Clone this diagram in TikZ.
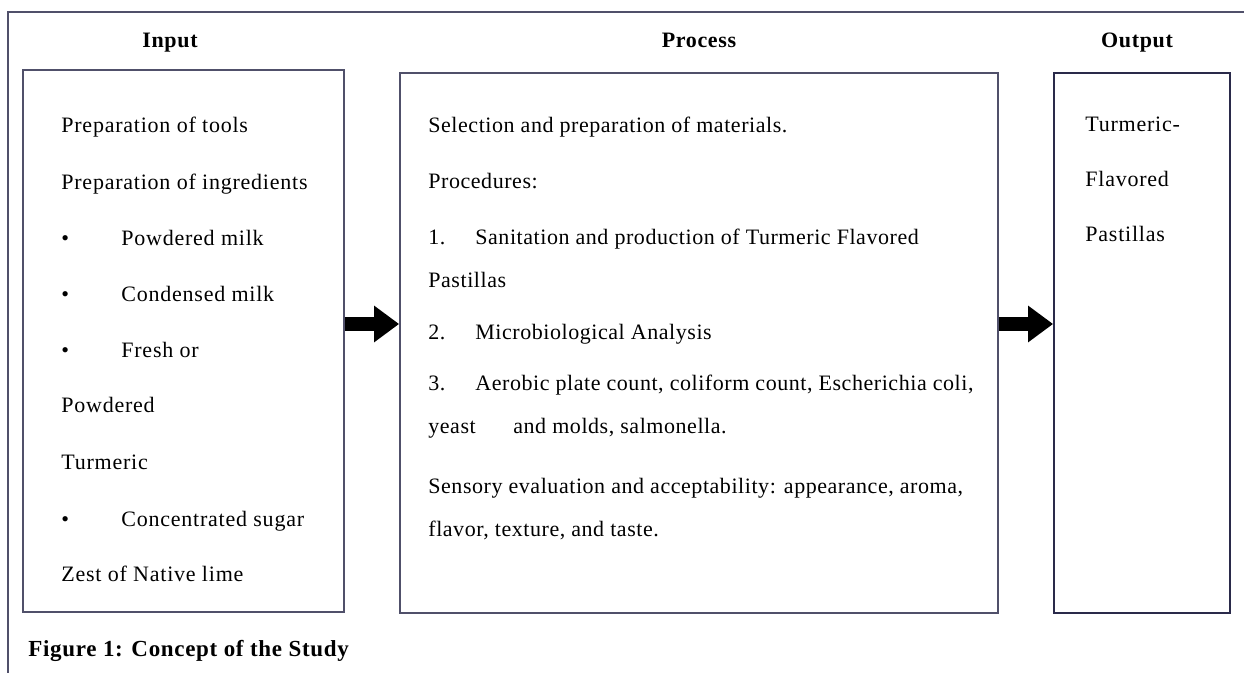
\documentclass[tikz,border=0pt]{standalone}
\usepackage{fontspec}
\setmainfont{Liberation Serif}
\usetikzlibrary{arrows.meta,positioning,calc}
\definecolor{ruleGray}{HTML}{50506A}
\definecolor{boxNavy}{HTML}{2A2A4A}
\tikzset{
  framerule/.style={draw=ruleGray, line width=.9pt},
  stagebox/.style={draw=ruleGray, line width=.9pt, rectangle, inner sep=0pt,
    minimum height=270pt},
  headtext/.style={font=\fontsize{11}{13}\selectfont\bfseries\addfontfeatures{LetterSpace=3},
    anchor=base, inner sep=0pt},
  bodytext/.style={font=\fontsize{11}{13}\selectfont\addfontfeatures{LetterSpace=3.5},
    anchor=base west, inner sep=0pt},
  proctext/.style={bodytext, font=\fontsize{11}{13}\selectfont\addfontfeatures{LetterSpace=2.5}},
  captiontext/.style={font=\fontsize{11.5}{14}\selectfont\bfseries\addfontfeatures{LetterSpace=3},
    anchor=base west, inner sep=0pt},
  blockarrow/.style={draw=black, line width=7pt, -{Triangle[length=12.5pt, width=17.5pt]}}
}

\begin{document}
\begin{tikzpicture}[x=0.5pt, y=-0.5pt]
  \useasboundingbox (0,0) rectangle (1244,673);

  % outer frame: left and top rules only
  \draw[framerule] (8,673) -- (8,12) -- (1244,12);

  % stage boxes
  \node[stagebox, minimum width=160.5pt, minimum height=271pt] (input) at (183.5,341) {};
  \node[stagebox, minimum width=299pt] (process) at (699,343) {};
  \node[stagebox, draw=boxNavy, minimum width=88pt] (output) at (1142,343) {};

  % headings
  \node[headtext] (inputhead) at (170,48) {Input};
  \node[headtext] (processhead) at (699,48) {Process};
  \node[headtext] (outputhead) at (1137,48) {Output};

  % input list
  \foreach \y/\txt in {133/Preparation of tools, 190/Preparation of ingredients,
      413/Powdered, 470/Turmeric, 582/Zest of Native lime}
    \node[bodytext] at (61,\y) {\txt};
  \foreach \y/\txt in {246/Powdered milk, 302/Condensed milk, 358/Fresh or, 527/Concentrated sugar} {
    \node[bodytext] at (61,\y) {•};
    \node[bodytext] at (121,\y) {\txt};
  }

  % process steps
  \node[proctext] (sel) at (428,133) {Selection and preparation of materials.};
  \node[proctext] (proc) at (428,189) {Procedures:};
  \node[proctext] (n1) at (428,245) {1.};
  \node[proctext] (s1) at (475,245) {Sanitation and production of Turmeric Flavored};
  \node[proctext] (s1b) at (428,288) {Pastillas};
  \node[proctext] (n2) at (428,340) {2.};
  \node[proctext] (s2) at (475,340) {Microbiological Analysis};
  \node[proctext] (n3) at (428,391) {3.};
  \node[proctext] (s3) at (475,391) {Aerobic plate count, coliform count, Escherichia coli,};
  \node[proctext] (s3a) at (428,434) {yeast};
  \node[proctext] (s3b) at (513,434) {and molds, salmonella.};
  \node[proctext] (sens) at (428,494) {Sensory evaluation and acceptability: appearance, aroma,};
  \node[proctext] (sensb) at (428,537) {flavor, texture, and taste.};

  % output
  \node[bodytext] (o1) at (1085,132) {Turmeric-};
  \node[bodytext] (o2) at (1085,187) {Flavored};
  \node[bodytext] (o3) at (1085,242) {Pastillas};

  % connectors
  \coordinate (arrowrow) at (0,324);
  \draw[blockarrow] (input.east |- arrowrow) -- (process.west |- arrowrow);
  \draw[blockarrow] (process.east |- arrowrow) -- (output.west |- arrowrow);

  \node[captiontext] (caption) at (28,657) {Figure 1: Concept of the Study};
\end{tikzpicture}
\end{document}
